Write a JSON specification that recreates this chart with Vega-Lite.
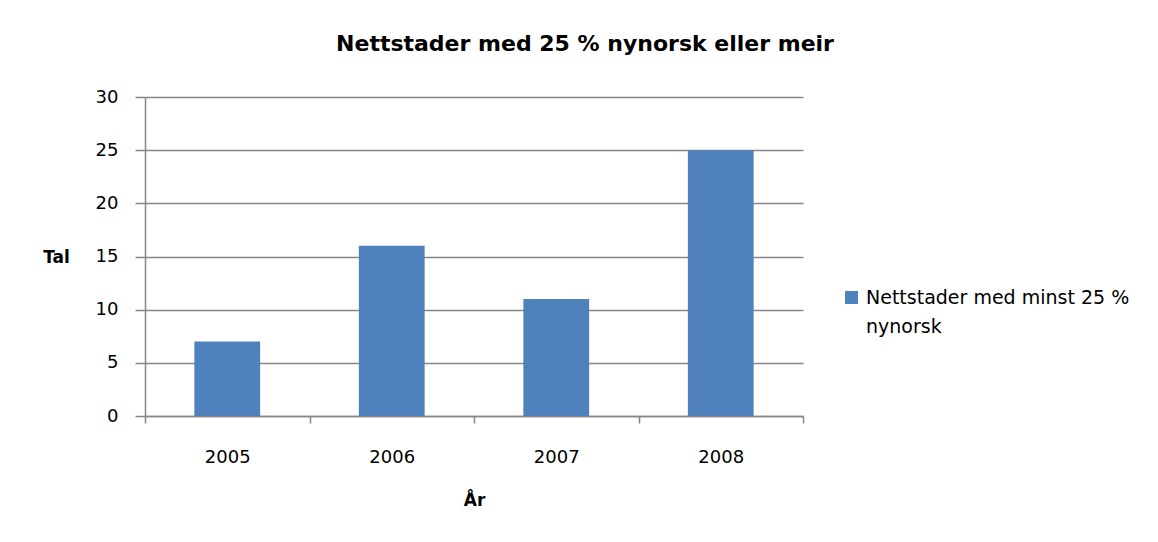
{
  "$schema": "https://vega.github.io/schema/vega-lite/v6.json",
  "width": 658,
  "height": 319,
  "autosize": {"type": "none"},
  "padding": {"left": 145, "top": 97, "right": 355, "bottom": 126},
  "background": "white",
  "title": {
    "text": "Nettstader med 25 % nynorsk eller meir",
    "anchor": "middle",
    "dx": 111,
    "offset": 32,
    "fontSize": 22,
    "fontWeight": "bold",
    "font": "DejaVu Sans",
    "color": "#000000"
  },
  "data": {
    "values": [
      {"year": "2005", "value": 7, "series": "Nettstader med minst 25 % nynorsk"},
      {"year": "2006", "value": 16, "series": "Nettstader med minst 25 % nynorsk"},
      {"year": "2007", "value": 11, "series": "Nettstader med minst 25 % nynorsk"},
      {"year": "2008", "value": 25, "series": "Nettstader med minst 25 % nynorsk"}
    ]
  },
  "mark": {"type": "bar", "width": {"band": 0.4}},
  "encoding": {
    "x": {
      "field": "year",
      "type": "nominal",
      "scale": {"paddingInner": 0, "paddingOuter": 0},
      "axis": {
        "title": "År",
        "labelAngle": 0,
        "tickBand": "extent",
        "tickSize": 7,
        "labelPadding": 25,
        "titlePadding": 26,
        "domainColor": "#868686",
        "domainWidth": 1.5,
        "tickColor": "#868686",
        "tickWidth": 1.5
      }
    },
    "y": {
      "field": "value",
      "type": "quantitative",
      "scale": {"domain": [0, 30]},
      "axis": {
        "title": "Tal",
        "titleAngle": 0,
        "titleX": -89,
        "titleY": 160,
        "titleAlign": "center",
        "titleBaseline": "middle",
        "values": [0, 5, 10, 15, 20, 25, 30],
        "tickSize": 10,
        "labelPadding": 17,
        "domainColor": "#868686",
        "domainWidth": 1.5,
        "tickColor": "#868686",
        "tickWidth": 1.5,
        "gridColor": "#868686",
        "gridWidth": 1.5
      }
    },
    "color": {
      "field": "series",
      "type": "nominal",
      "scale": {"range": ["#4F81BD"]},
      "legend": {
        "title": null,
        "orient": "none",
        "legendX": 697,
        "legendY": 191,
        "symbolType": "square",
        "symbolSize": 170,
        "symbolStrokeWidth": 0,
        "labelFontSize": 19,
        "labelOffset": 5,
        "labelLimit": 400,
        "labelExpr": "['Nettstader med minst 25 %', 'nynorsk']"
      }
    }
  },
  "config": {
    "font": "DejaVu Sans",
    "view": {"stroke": null},
    "axis": {
      "labelFont": "DejaVu Sans",
      "labelFontSize": 18,
      "labelColor": "#000000",
      "titleFont": "DejaVu Sans",
      "titleFontSize": 17,
      "titleFontWeight": "bold",
      "titleColor": "#000000"
    },
    "legend": {"labelFont": "DejaVu Sans", "labelColor": "#000000"},
    "style": {"guide-label": {"lineHeight": 29}}
  }
}
